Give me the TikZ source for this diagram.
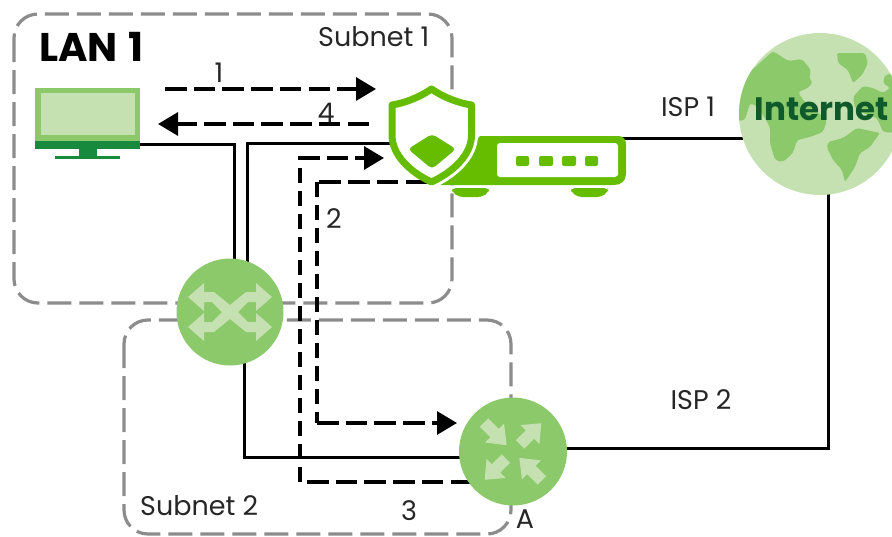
\documentclass[tikz,border=0pt]{standalone}
\usepackage{fontspec}
\setmainfont{Poppins}
\usetikzlibrary{arrows.meta,backgrounds}
\definecolor{gLight}{HTML}{C5E1B1}
\definecolor{gMid}{HTML}{8CC96B}
\definecolor{gDark}{HTML}{178A3E}
\definecolor{gFw}{HTML}{66BD00}
\definecolor{gText}{HTML}{0F5A2A}
\definecolor{zone}{HTML}{8C8C8C}
\tikzset{
  zonebox/.style={draw=zone,line width=3.2pt,rounded corners=24pt,dash pattern=on 24pt off 8pt},
  wire/.style={draw=black,line width=3pt},
  flowline/.style={draw=black,line width=3.2pt,dash pattern=on 21.5pt off 7.2pt},
  flowv/.style={draw=black,line width=3.2pt,dash pattern=on 15pt off 8pt},
  flow/.style={flowline,-{Triangle[length=20pt,width=23pt]}},
  lbl/.style={font=\fontsize{27}{30}\selectfont,inner sep=0pt,text=black!85},
  hub/.style={circle,fill=gMid,inner sep=0pt},
  arrowshape/.style={fill=gLight,draw=none}
}
\begin{document}
\begin{tikzpicture}[x=1pt,y=-1pt]
\useasboundingbox (0,0) rectangle (892,536);
\node[hub,minimum size=107pt] (sw) at (230,312) {};
\node[hub,minimum size=108pt] (rt) at (513,451.5) {};
\node[circle,fill=gLight,minimum size=162pt,inner sep=0pt] (net) at (820,114) {};
% switch arrows
\begin{scope}[shift={(230,312)}]
\fill[arrowshape] (-42,-15) -- (-26,-29) -- (-26,-20) -- (-16,-20) -- (0,-7) -- (16,-20) -- (26,-20) -- (26,-29) -- (42,-15) -- (26,-1) -- (26,-10) -- (18,-10) -- (8,0) -- (18,10) -- (26,10) -- (26,1) -- (42,15) -- (26,29) -- (26,20) -- (16,20) -- (0,7) -- (-16,20) -- (-26,20) -- (-26,29) -- (-42,15) -- (-26,1) -- (-26,10) -- (-18,10) -- (-8,0) -- (-18,-10) -- (-26,-10) -- (-26,-1) -- cycle;
\end{scope}
% router arrows
\foreach \a in {45,225}{
\begin{scope}[shift={(513,451.5)},rotate=\a]
\fill[arrowshape] (10,-6) -- (24,-6) -- (24,-13.4) -- (40,0) -- (24,13.4) -- (24,6) -- (10,6) -- cycle;
\end{scope}}
\foreach \a in {135,315}{
\begin{scope}[shift={(513,451.5)},rotate=\a]
\fill[arrowshape] (41,-6) -- (26,-6) -- (26,-13.4) -- (9,0) -- (26,13.4) -- (26,6) -- (41,6) -- cycle;
\end{scope}}
% Internet
\begin{scope}
\clip (820,114) circle (81pt);
\fill[gMid,rounded corners=3pt] (773,51) -- (788,61) -- (802,59) -- (811,70) -- (809,79) -- (813,82) -- (808,88) -- (798,92) -- (803,100) -- (827,120) -- (823,132) -- (810,137) -- (797,140) -- (793,153) -- (783,162) -- (775,160) -- (770,143) -- (770,127) -- (758,107) -- (750,103) -- (745,120) -- (730,122) -- (730,90) -- cycle;
\fill[gMid,rounded corners=2pt] (837,53) -- (865,53) -- (868,63) -- (862,75) -- (853,83) -- (848,70) -- (838,63) -- cycle;
\fill[gMid,rounded corners=2pt] (900,72) -- (885,75) -- (883,83) -- (890,88) -- (883,93) -- (873,88) -- (863,86) -- (853,97) -- (855,108) -- (867,115) -- (877,118) -- (883,132) -- (900,133) -- cycle;
\fill[gMid,rounded corners=2pt] (857,128) -- (880,133) -- (870,147) -- (860,153) -- (855,167) -- (845,182) -- (842,170) -- (833,160) -- (827,148) -- (828,142) -- (843,138) -- cycle;
\end{scope}
\node[font=\fontsize{32.5}{36}\selectfont\bfseries,text=gText,inner sep=0pt] (nettxt) at (821.5,109) {Internet};
% monitor
\fill[gMid] (35,88) rectangle (140,141);
\fill[gLight] (41,93) rectangle (135,135);
\fill[gDark] (35,141) rectangle (140,149);
\fill[gDark] (79,149) rectangle (97,157);
\fill[gDark] (55,156) rectangle (120,159);
\coordinate (mon) at (139,144);
% firewall
\fill[gFw] (480,136) -- (618,136) .. controls (623,136) and (626,139) .. (626,144) -- (626,174) .. controls (626,181) and (621,185) .. (614,185) -- (440,185) -- cycle;
\fill[white,rounded corners=3pt] (497,143) -- (618,143) -- (618,172) .. controls (618,175) and (616,177) .. (612,177) -- (497,177) -- cycle;
\fill[gFw,rounded corners=2pt] (516,156) rectangle (529,166);
\fill[gFw,rounded corners=2pt] (539,156) rectangle (553,166);
\fill[gFw,rounded corners=2pt] (562,156) rectangle (576,166);
\fill[gFw,rounded corners=2pt] (585,156) rectangle (598,166);
\fill[gFw,rounded corners=4pt] (452,188) -- (489,188) -- (489,192) -- (482,197) -- (459,197) -- (452,192) -- cycle;
\fill[gFw,rounded corners=4pt] (571,188) -- (608,188) -- (608,192) -- (601,197) -- (578,197) -- (571,192) -- cycle;
\begin{scope}
\clip (432,100) rectangle (500,200);
\draw[white,line width=13pt] (431.5,89) .. controls (420,97) and (405,103) .. (392,105) -- (392,135) .. controls (392,155) and (410,172) .. (431.5,182) .. controls (453,172) and (471.5,155) .. (471.5,135) -- (471.5,105) .. controls (458,103) and (443,97) .. (431.5,89) -- cycle;
\end{scope}
\draw[gFw,fill=white,line width=7pt,line join=round] (431.5,89) .. controls (420,97) and (405,103) .. (392,105) -- (392,135) .. controls (392,155) and (410,172) .. (431.5,182) .. controls (453,172) and (471.5,155) .. (471.5,135) -- (471.5,105) .. controls (458,103) and (443,97) .. (431.5,89) -- cycle;
\fill[gFw,rounded corners=4pt] (432,134) -- (456,149) -- (432,169) -- (408,149) -- cycle;
\coordinate (fwa) at (392,143);
\coordinate (fwb) at (620,138);
\coordinate (netw) at (745,138);
\coordinate (nets) at (828,190);
\coordinate (swa) at (234,270);
\coordinate (swb) at (247,270);
\coordinate (swc) at (244,355);
\coordinate (rta) at (465,457);
\coordinate (rtb) at (560,448);
\coordinate (f1a) at (165,89);
\coordinate (f1b) at (376,89);
\coordinate (f4a) at (369,124);
\coordinate (f4b) at (158,124);
\coordinate (f2a) at (427,182);
\coordinate (f2c) at (317,182);
\coordinate (f2d) at (317,423);
\coordinate (f2b) at (457,423);
\coordinate (f3a) at (472,482);
\coordinate (f3c) at (300,482);
\coordinate (f3d) at (300,162);
\coordinate (f3e) at (298,158);
\coordinate (f3b) at (384,158);
\begin{scope}[on background layer]
\draw[zonebox] (14,14) rectangle (452,303);
\draw[zonebox] (124,320) rectangle (511,534);
\path[wire] (mon) -| (swa);
\path[wire] (fwa) -| (swb);
\path[wire] (swc) |- (rta);
\path[wire] (fwb) -- (netw);
\path[wire] (rtb) -| (nets);
\path[flow] (f1a) -- (f1b);
\path[flow] (f4a) -- (f4b);
\path[flowline] (f3a) -- (f3c);
\path[flowv] (f3c) -- (f3d);
\path[flow] (f3e) -- (f3b);
\path[flowline] (f2a) -- (f2c);
\path[flowv] (f2c) -- (f2d);
\path[flow] (f2d) -- (f2b);
\end{scope}
% labels
\node[font=\fontsize{40}{44}\selectfont\bfseries,inner sep=0pt,anchor=west] (lan) at (39,47) {LAN\hspace{2pt} 1};
\node[lbl,anchor=west] (s1) at (318,37) {Subnet 1};
\node[lbl,anchor=west] (s2) at (140,506) {Subnet 2};
\node[lbl] (l1) at (219,73) {1};
\node[lbl] (l4) at (326,113) {4};
\node[lbl] (l2) at (334,219) {2};
\node[lbl] (l3) at (409,511) {3};
\node[lbl] (isp1) at (688,107) {ISP 1};
\node[lbl] (isp2) at (701,400) {ISP 2};
\node[lbl] (a) at (525,519) {A};
\end{tikzpicture}
\end{document}
